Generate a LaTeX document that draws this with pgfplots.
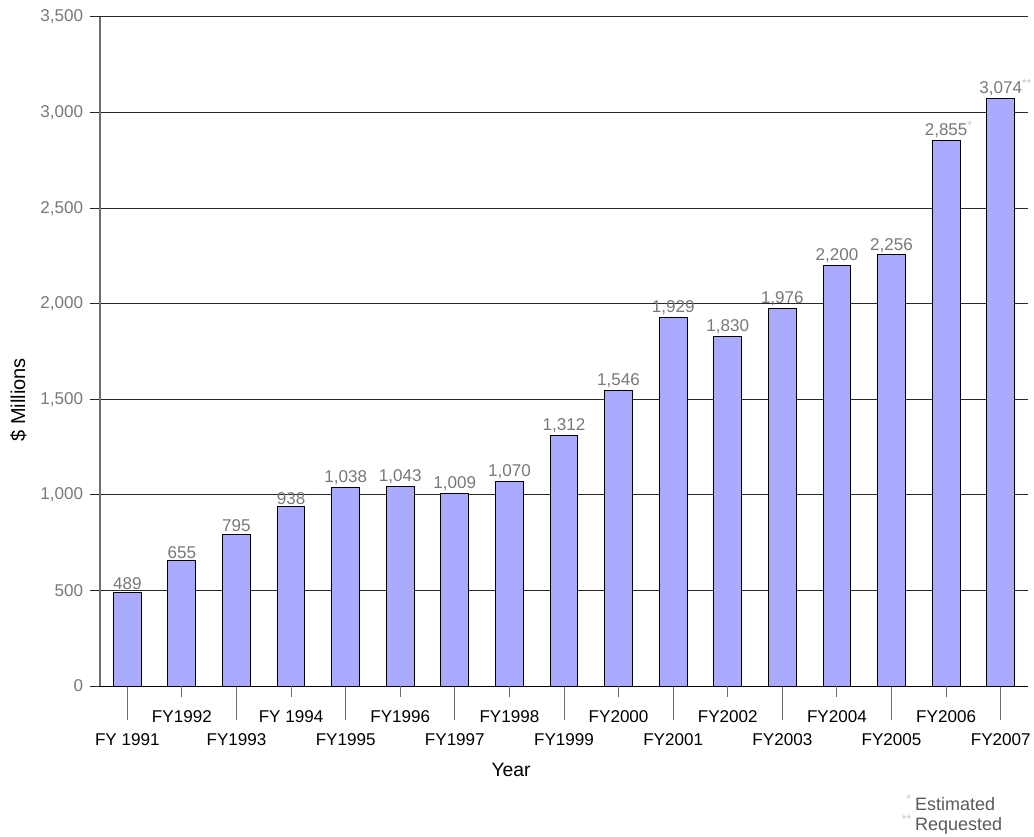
\documentclass[border=0pt]{standalone}
\usepackage{pgfplots}
\pgfplotsset{compat=1.18}
\usepackage{pgfplotstable}
\usepackage{fontspec}
\setmainfont{Liberation Sans}
\definecolor{barfill}{RGB}{170,170,255}
\definecolor{tickgray}{RGB}{120,120,120}
\definecolor{gridc}{RGB}{40,40,40}
\definecolor{axgray}{RGB}{110,110,110}
\definecolor{stargray}{RGB}{200,200,200}
\definecolor{footgray}{RGB}{90,90,90}
\newcommand{\tf}{\fontsize{12.8pt}{15pt}\selectfont}
\newcommand{\ff}{\fontsize{13.5pt}{15pt}\selectfont}

\pgfplotstableread{
x y lab
0 489 489
1 655 655
2 795 795
3 938 938
4 1038 {1,038}
5 1043 {1,043}
6 1009 {1,009}
7 1070 {1,070}
8 1312 {1,312}
9 1546 {1,546}
10 1929 {1,929}
11 1830 {1,830}
12 1976 {1,976}
13 2200 {2,200}
14 2256 {2,256}
15 2855 {2,855\rlap{\textcolor{stargray}{\textsuperscript{*}}}}
16 3074 {3,074\rlap{\textcolor{stargray}{\textsuperscript{**}}}}
}\datatable

\begin{document}
\begin{tikzpicture}
\path[use as bounding box] (-75pt,-112.5pt) rectangle (700.5pt,514.5pt);
\begin{axis}[
  at={(0,0)}, anchor=south west, scale only axis,
  width=696pt, height=501.75pt,
  xmin=-0.5, xmax=16.5, ymin=0, ymax=3500,
  clip=false,
  axis x line*=bottom, axis y line*=left,
  axis line style={-},
  x axis line style={black, line width=0.75pt},
  y axis line style={axgray, line width=1pt},
  xtick=\empty,
  ytick={0,500,...,3500},
  ymajorgrids, grid style={gridc, line width=0.75pt},
  tick align=outside, major tick length=7.5pt,
  ytick style={gridc, line width=0.75pt},
  /pgf/number format/assume math mode=true,
  /pgf/number format/1000 sep={,},
  yticklabel style={text=tickgray, font=\tf, inner sep=2pt, xshift=-3pt},
  ylabel={\$ Millions},
  ylabel style={at={(axis description cs:-0.088,0.428)}, anchor=center, font=\fontsize{15pt}{18pt}\selectfont},
  xlabel={Year},
  xlabel style={at={(axis description cs:0.443,-0.125)}, anchor=center, font=\fontsize{14.5pt}{17pt}\selectfont},
  bar width=0.51,
  point meta=explicit symbolic,
  nodes near coords,
  nodes near coords style={text=tickgray, font=\tf, anchor=south, inner sep=1.5pt},
]
\addplot[ybar, fill=barfill, draw=black, line width=0.75pt] table[x=x, y=y, meta=lab] {\datatable};
\node[anchor=north west, font=\ff, text=footgray, inner sep=0pt, align=left] at (axis description cs:0.878,-0.163) {\llap{\textcolor{stargray}{\textsuperscript{*}}\,}Estimated\\\llap{\textcolor{stargray}{\textsuperscript{**}}\,}Requested};
\end{axis}
\begin{axis}[
  at={(0,0)}, anchor=south west, scale only axis,
  width=696pt, height=501.75pt,
  xmin=-0.5, xmax=16.5, ymin=0, ymax=3500,
  hide y axis,
  axis x line*=bottom,
  axis line style={-, black, line width=0.75pt},
  tick align=outside, major tick length=25.5pt,
  xtick={0,2,...,16},
  xticklabels={FY 1991,FY1993,FY1995,FY1997,FY1999,FY2001,FY2003,FY2005,FY2007},
  extra x ticks={1,3,...,15},
  extra x tick labels={FY1992,FY 1994,FY1996,FY1998,FY2000,FY2002,FY2004,FY2006},
  extra x tick style={major tick length=8.25pt},
  xtick style={axgray, line width=0.75pt},
  xticklabel style={font=\tf, text=black, yshift=-7pt},
]
\end{axis}
\end{tikzpicture}
\end{document}
